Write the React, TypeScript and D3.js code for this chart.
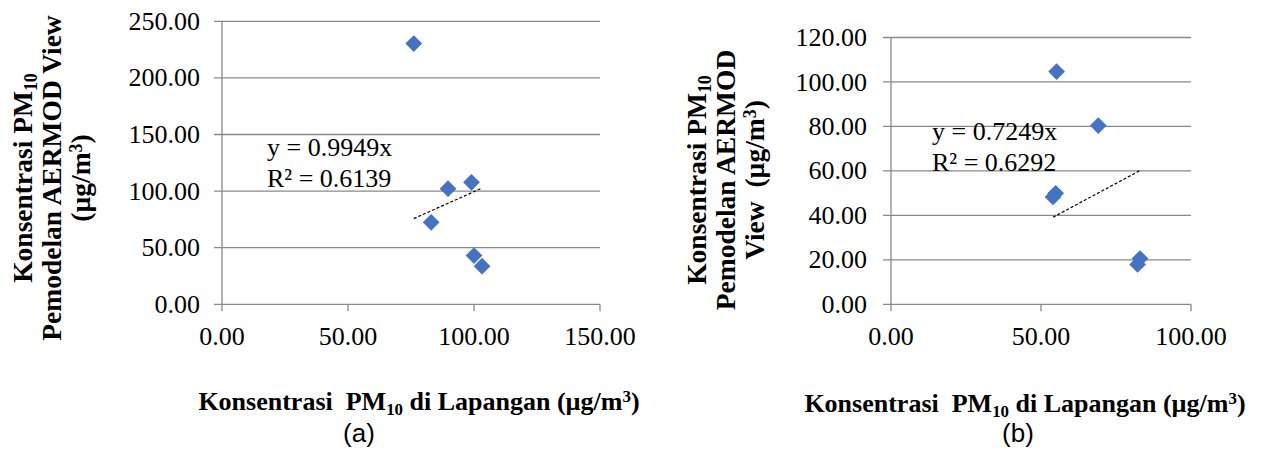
import React, { useEffect, useRef } from 'react';
import * as d3 from 'd3';

// Panel (a): field PM10 vs AERMOD View model PM10 (µg/m3)
const fieldPm10A = [76.1, 83.0, 89.7, 99.0, 100.0, 103.2];
const modelPm10A = [230.3, 72.4, 102.1, 107.8, 43.1, 33.7];
const xTicksA = [0, 50, 100, 150];
const yTicksA = [0, 50, 100, 150, 200, 250];
const slopeA = 0.9949;
const r2A = 0.6139;

// Panel (b)
const fieldPm10B = [55.2, 69.1, 54.0, 54.9, 83.0, 82.2];
const modelPm10B = [104.7, 80.4, 48.3, 49.9, 20.6, 17.9];
const xTicksB = [0, 50, 100];
const yTicksB = [0, 20, 40, 60, 80, 100, 120];
const slopeB = 0.7249;
const r2B = 0.6292;

const yTitleA = ['Konsentrasi PM|10', 'Pemodelan AERMOD View', '(µg/m^3)'];
const yTitleB = ['Konsentrasi PM|10', 'Pemodelan AERMOD', 'View  (µg/m^3)'];

interface Panel {
  xs: number[];
  ys: number[];
  xTicks: number[];
  yTicks: number[];
  slope: number;
  r2: number;
  yTitle: string[];
  letter: string;
  plot: { left: number; right: number; top: number; bottom: number };
  eq: { x: number; y: number };
  yTickX: number;
  yTitleX: number[];
  yTitleY: number;
  xTitle: { x: number; y: number; size: number };
  letterX: number;
}

const SERIF = '"Liberation Serif", "Times New Roman", serif';
const GRID = '#898989';

// writes "text|sub" or "text^sup" parts as tspans
function richText(sel: d3.Selection<SVGTextElement, unknown, null, undefined>, str: string) {
  const parts = str.split(/([|^][0-9]+)/).filter(p => p.length > 0);
  let shift = 0;
  parts.forEach(p => {
    if (p[0] === '|' || p[0] === '^') {
      const down = p[0] === '|' ? 0.3 : -0.45;
      sel.append('tspan')
        .attr('dy', `${down - shift}em`)
        .style('font-size', '0.65em')
        .text(p.slice(1));
      shift = down * 0.65;
    } else {
      sel.append('tspan')
        .attr('dy', shift !== 0 ? `${-shift}em` : null)
        .text(p);
      shift = 0;
    }
  });
}

function drawPanel(svg: d3.Selection<SVGSVGElement, unknown, null, undefined>, p: Panel) {
  const xScale = d3.scaleLinear()
    .domain([0, p.xTicks[p.xTicks.length - 1]])
    .range([p.plot.left, p.plot.right]);
  const yScale = d3.scaleLinear()
    .domain([0, p.yTicks[p.yTicks.length - 1]])
    .range([p.plot.bottom, p.plot.top]);

  const g = svg.append('g');

  // horizontal gridlines (with outer tick on the left)
  g.selectAll('.grid')
    .data(p.yTicks)
    .enter()
    .append('line')
    .attr('x1', xScale(0) - 8)
    .attr('x2', xScale.range()[1])
    .attr('y1', d => yScale(d))
    .attr('y2', d => yScale(d))
    .attr('stroke', GRID)
    .attr('stroke-width', 1.3);

  // y axis line
  g.append('line')
    .attr('x1', xScale(0))
    .attr('x2', xScale(0))
    .attr('y1', yScale.range()[1])
    .attr('y2', yScale(0) + 7)
    .attr('stroke', GRID)
    .attr('stroke-width', 1.3);

  // x ticks
  g.selectAll('.xtick')
    .data(p.xTicks.slice(1))
    .enter()
    .append('line')
    .attr('x1', d => xScale(d))
    .attr('x2', d => xScale(d))
    .attr('y1', yScale(0))
    .attr('y2', yScale(0) + 7)
    .attr('stroke', GRID)
    .attr('stroke-width', 1.3);

  const fmt = d3.format('.2f');

  g.selectAll('.ylab')
    .data(p.yTicks)
    .enter()
    .append('text')
    .attr('x', p.yTickX)
    .attr('y', d => yScale(d))
    .attr('dy', '0.33em')
    .attr('text-anchor', 'end')
    .style('font-family', SERIF)
    .style('font-size', '26px')
    .style('fill', '#000')
    .text(d => fmt(d));

  g.selectAll('.xlab')
    .data(p.xTicks)
    .enter()
    .append('text')
    .attr('x', d => xScale(d))
    .attr('y', 345)
    .attr('text-anchor', 'middle')
    .style('font-family', SERIF)
    .style('font-size', '26px')
    .style('fill', '#000')
    .text(d => fmt(d));

  // trendline through origin, spanning the data range
  const [xMin, xMax] = d3.extent(p.xs) as [number, number];
  const line = d3.line<number>()
    .x(d => xScale(d))
    .y(d => yScale(p.slope * d));
  g.append('path')
    .datum([xMin, xMax])
    .attr('d', line)
    .attr('fill', 'none')
    .attr('stroke', '#000')
    .attr('stroke-width', 1.2)
    .attr('stroke-dasharray', '3,2');

  // diamond markers
  const diamond = d3.symbol().type(d3.symbolSquare).size(140);
  g.selectAll('.pt')
    .data(p.xs.map((x, i) => ({ x, y: p.ys[i] })))
    .enter()
    .append('path')
    .attr('d', diamond)
    .attr('transform', d => `translate(${xScale(d.x)},${yScale(d.y)}) rotate(45)`)
    .attr('fill', '#4472C4');

  // equation label
  const eq = g.append('text')
    .style('font-family', SERIF)
    .style('font-size', '26px')
    .style('fill', '#000');
  eq.append('tspan').attr('x', p.eq.x).attr('y', p.eq.y).text(`y = ${p.slope.toFixed(4)}x`);
  eq.append('tspan').attr('x', p.eq.x).attr('y', p.eq.y + 31).text(`R² = ${p.r2.toFixed(4)}`);

  // y axis title (rotated, three lines)
  p.yTitle.forEach((lineStr, i) => {
    const t = g.append('text')
      .attr('transform', `translate(${p.yTitleX[i]}, ${p.yTitleY}) rotate(-90)`)
      .attr('text-anchor', 'middle')
      .style('font-family', SERIF)
      .style('font-weight', 'bold')
      .style('font-size', '27.5px')
      .style('white-space', 'pre')
      .style('fill', '#000');
    richText(t, lineStr);
  });

  // x axis title
  const xt = g.append('text')
    .attr('x', p.xTitle.x)
    .attr('y', p.xTitle.y)
    .attr('text-anchor', 'middle')
    .style('font-family', SERIF)
    .style('font-weight', 'bold')
    .style('font-size', `${p.xTitle.size}px`)
    .style('white-space', 'pre')
    .style('fill', '#000');
  richText(xt, 'Konsentrasi  PM|10 di Lapangan (µg/m^3)');

  g.append('text')
    .attr('x', p.letterX)
    .attr('y', 442)
    .attr('text-anchor', 'middle')
    .style('font-family', '"Liberation Sans", Arial, sans-serif')
    .style('font-size', '26px')
    .style('fill', '#000')
    .text(p.letter);
}

const panelA: Panel = {
  xs: fieldPm10A, ys: modelPm10A, xTicks: xTicksA, yTicks: yTicksA,
  slope: slopeA, r2: r2A, yTitle: yTitleA, letter: '(a)',
  plot: { left: 222, right: 600, top: 21.3, bottom: 304.3 },
  eq: { x: 267, y: 156 },
  yTickX: 200,
  yTitleX: [32, 61, 90],
  yTitleY: 178,
  xTitle: { x: 419, y: 410, size: 26 },
  letterX: 359,
};

const panelB: Panel = {
  xs: fieldPm10B, ys: modelPm10B, xTicks: xTicksB, yTicks: yTicksB,
  slope: slopeB, r2: r2B, yTitle: yTitleB, letter: '(b)',
  plot: { left: 891, right: 1191, top: 37.5, bottom: 304.3 },
  eq: { x: 932, y: 139.5 },
  yTickX: 867,
  yTitleX: [706, 735, 764],
  yTitleY: 180,
  xTitle: { x: 1025, y: 412, size: 26 },
  letterX: 1018,
};

export default function App() {
  const svgRef = useRef<SVGSVGElement>(null);

  useEffect(() => {
    if (!svgRef.current) return;
    const svg = d3.select(svgRef.current);
    svg.selectAll('*').remove();
    drawPanel(svg, panelA);
    drawPanel(svg, panelB);
  }, []);

  return (
    <svg
      ref={svgRef}
      width={1264}
      height={456}
      style={{ position: 'absolute', left: 0, top: 0, background: '#fff' }}
    />
  );
}
